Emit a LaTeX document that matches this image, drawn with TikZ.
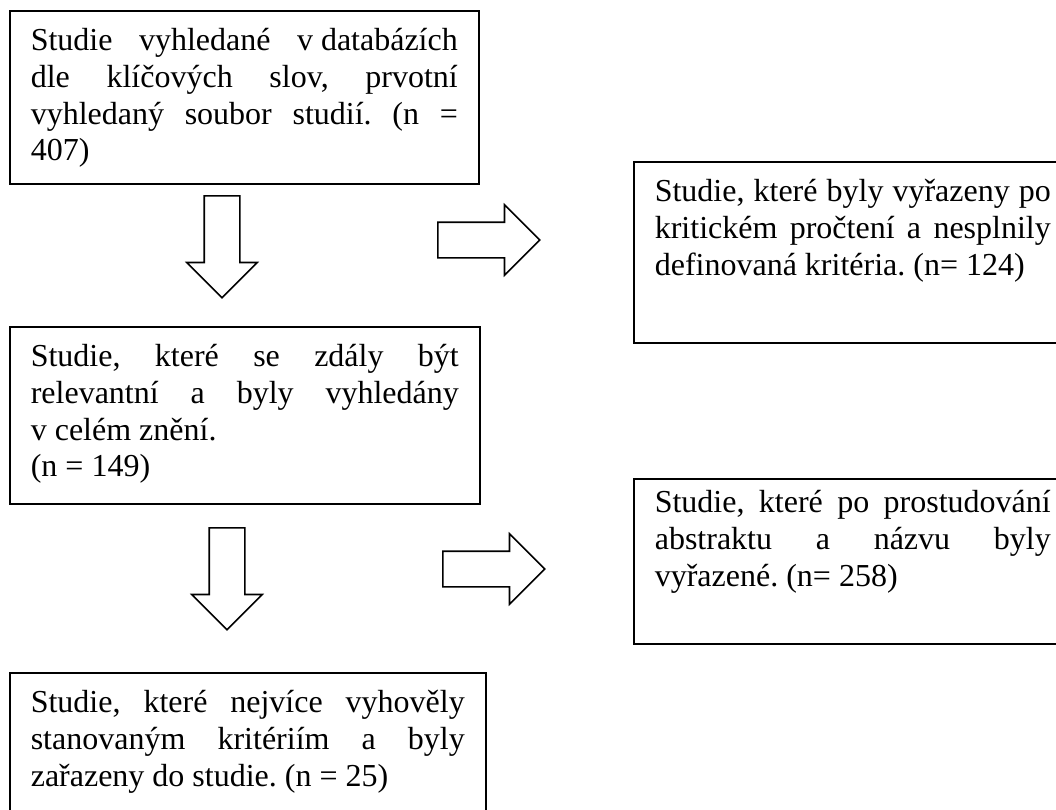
\documentclass[tikz,border=0pt]{standalone}
\usepackage{fontspec}
\setmainfont{Liberation Serif}
\usepackage{tikz}
\usetikzlibrary{shapes.arrows}
\frenchspacing
\newcommand{\studytext}[3]{\parbox[t][#1][t]{#2}{\frenchspacing\hyphenpenalty=10000 \exhyphenpenalty=10000 \tolerance=10000 \strut #3}}
\tikzstyle{study} = [rectangle, draw=black, line width=1.6pt, anchor=north west, inner xsep=21pt, inner ysep=14pt, font=\fontsize{32}{36.8}\selectfont]
\tikzstyle{blockarrow} = [single arrow, draw=black, line width=1.6pt, minimum height=102pt, inner xsep=0pt, inner ysep=17pt, single arrow head extend=17.5pt, single arrow head indent=0pt, anchor=tail]

\begin{document}
\begin{tikzpicture}[x=1pt, y=-1pt]
\useasboundingbox (0,0) rectangle (1056,809);
\clip (0,0) rectangle (1056,809);
\node (found) [study] at (9,10) {\studytext{145pt}{427pt}{Studie vyhledané \mbox{v databázích}\linebreak dle klíčových slov, prvotní\linebreak vyhledaný soubor studií. (n =\linebreak 407)}};
\node (relevant) [study] at (9,326) {\studytext{149pt}{428pt}{Studie, které se zdály být\linebreak relevantní a byly vyhledány\linebreak v~celém znění.\\(n = 149)}};
\node (included) [study] at (9,672) {\studytext{200pt}{434pt}{Studie, které nejvíce vyhověly\linebreak stanovaným kritériím a byly\linebreak zařazeny do studie. (n = 25)}};
\node (excluded) [study] at (633,161) {\studytext{153pt}{396pt}{Studie, které byly vyřazeny po\linebreak kritickém pročtení a nesplnily\linebreak definovaná kritéria. (n= 124)}};
\node (rejected) [study, inner ysep=8pt] at (633,478) {\studytext{149pt}{396pt}{Studie, které po prostudování\linebreak abstraktu a názvu byly\linebreak vyřazené. (n= 258)}};
\node (down1) [blockarrow, rotate=-90] at (222,195) {};
\node (right1) [blockarrow] at (437,240) {};
\node (down2) [blockarrow, rotate=-90] at (227,527) {};
\node (right2) [blockarrow] at (442,569) {};
\end{tikzpicture}
\end{document}
